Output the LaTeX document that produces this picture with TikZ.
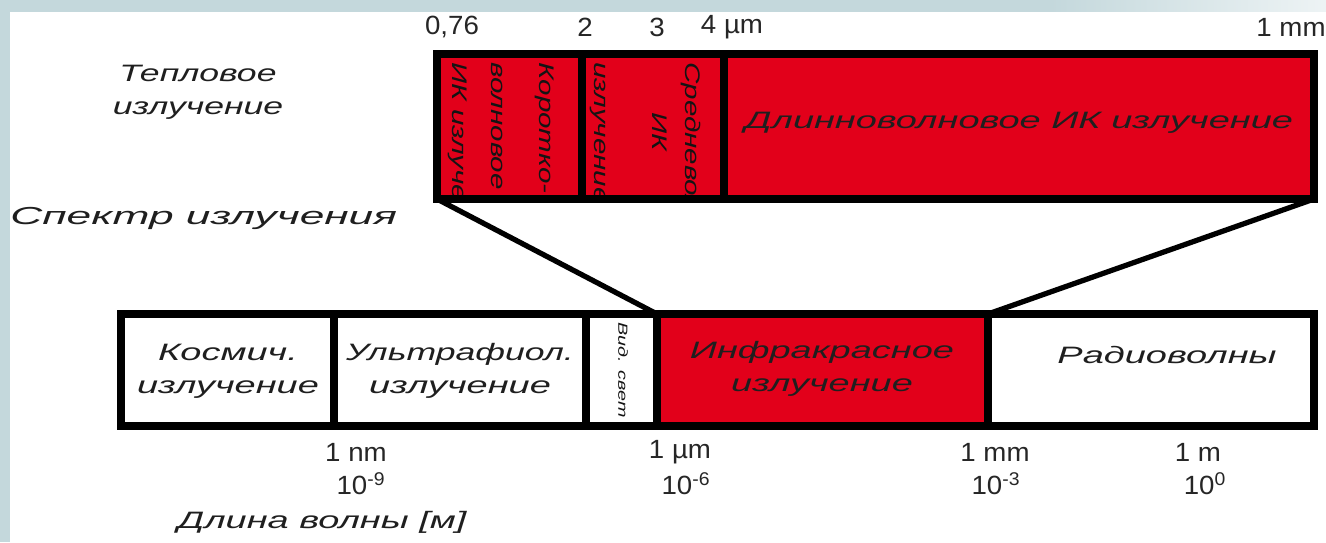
\documentclass[tikz,border=0pt]{standalone}
\usepackage{fontspec}
\setmainfont{Liberation Sans}
\usetikzlibrary{fit}
\definecolor{irred}{RGB}{226,0,26}
\definecolor{slidebg}{RGB}{196,216,220}
\newcommand{\wtext}[2][1.6]{\scalebox{#1}[1]{#2}}

\begin{document}
\begin{tikzpicture}[x=0.02cm, y=-0.02cm]
  % Define styles
  \tikzstyle{cell} = [rectangle, draw, line width=5pt, inner sep=0pt, outer sep=0pt]
  \tikzstyle{ircell} = [cell, fill=irred]
  \tikzstyle{rutext} = [font=\fontsize{13.5}{19}\selectfont\itshape, text=black!88, align=center, inner sep=0pt]
  \tikzstyle{vtext} = [font=\fontsize{12}{13}\selectfont\itshape, text=black!92, inner sep=0pt, rotate=-90]
  \tikzstyle{tick} = [font=\fontsize{15}{17}\selectfont, text=black!85, inner sep=0pt]
  \tikzstyle{link} = [line width=3pt]

  % Background of the slide
  \useasboundingbox (0,0) rectangle (1326,542);
  \fill[slidebg] (0,0) rectangle (1326,542);
  \shade[left color=slidebg, right color=white!70!slidebg] (1050,0) rectangle (1326,12);
  \fill[white] (10,12) rectangle (1326,542);

  % Top: thermal radiation band
  \node[ircell, fit={(437,54) (582,199)}] (swir) {};
  \node[ircell, fit={(582,54) (724,199)}] (mwir) {};
  \node[ircell, fit={(724,54) (1314,199)}] (lwir) {};

  \begin{scope}
    \clip (442,59) rectangle (1309,194);
    \node[vtext, anchor=west] (swa) at (545,62) {\wtext[1.4]{Коротко-}};
    \node[vtext, anchor=west] (swb) at (497,62) {\wtext[1.4]{волновое}};
    \node[vtext, anchor=west] (swc) at (458,62) {\wtext[1.4]{ИК излучение}};
    \node[vtext, anchor=west] (mwa) at (691,62) {\wtext[1.4]{Средневолновое}};
    \node[vtext] (mwb) at (660,132) {\wtext[1.4]{ИК}};
    \node[vtext, anchor=west] (mwc) at (598,62) {\wtext[1.4]{излучение}};
  \end{scope}
  \node[rutext] (lwt) at (1019,123) {\wtext{Длинноволновое ИК излучение}};

  % Top scale
  \node[tick] (t076) at (452,27) {\wtext[1.05]{0,76}};
  \node[tick] (t2) at (585,27) {\wtext[1.05]{2}};
  \node[tick] (t3) at (657,27) {\wtext[1.05]{3}};
  \node[tick] (t4) at (732,27) {\wtext[1.05]{4 µm}};
  \node[tick] (t1mm) at (1291,27) {\wtext[1.05]{1 mm}};

  % Left labels
  \node[rutext] (heat) at (198,92) {\wtext[1.5]{Тепловое}\\\wtext[1.5]{излучение}};
  \node[rutext, anchor=west, font=\fontsize{14}{16}\selectfont\itshape] (spec) at (10,218) {\wtext[1.8]{Спектр излучения}};

  % Bottom: whole spectrum
  \node[cell, fit={(121,314) (334,426)}] (cosmic) {};
  \node[cell, fit={(334,314) (586,426)}] (uv) {};
  \node[cell, fit={(586,314) (657,426)}] (vis) {};
  \node[ircell, fit={(657,314) (988,426)}] (ir) {};
  \node[cell, fit={(988,314) (1314,426)}] (radio) {};

  \node[rutext] (cosmict) at (228,371) {\wtext{Космич.}\\\wtext{излучение}};
  \node[rutext] (uvt) at (460,371) {\wtext[1.5]{Ультрафиол.}\\\wtext{излучение}};
  \node[vtext, font=\fontsize{7.5}{8}\selectfont\itshape] (vist) at (623,370) {\wtext[1.5]{Вид. свет}};
  \node[rutext] (irt) at (822,369) {\wtext{Инфракрасное}\\\wtext{излучение}};
  \node[rutext] (radiot) at (1167,355) {\wtext{Радиоволны}};

  % Zoom lines
  \draw[link] (swir.south west) -- (ir.north west);
  \draw[link] (lwir.south east) -- (ir.north east);

  % Bottom scale
  \node[tick] (b1nm) at (356,452) {\wtext[1.05]{1 nm}};
  \node[tick] (b9) at (361,484) {\wtext[1.05]{10\textsuperscript{-9}}};
  \node[tick] (b1um) at (680,452) {\wtext[1.05]{1 µm}};
  \node[tick] (b6) at (686,484) {\wtext[1.05]{10\textsuperscript{-6}}};
  \node[tick] (b1mm) at (995,452) {\wtext[1.05]{1 mm}};
  \node[tick] (b3) at (996,484) {\wtext[1.05]{10\textsuperscript{-3}}};
  \node[tick] (b1m) at (1198,452) {\wtext[1.05]{1 m}};
  \node[tick] (b0) at (1205,484) {\wtext[1.05]{10\textsuperscript{0}}};
  \node[rutext] (wavelen) at (322,522) {\wtext{Длина волны [м]}};

\end{tikzpicture}
\end{document}
